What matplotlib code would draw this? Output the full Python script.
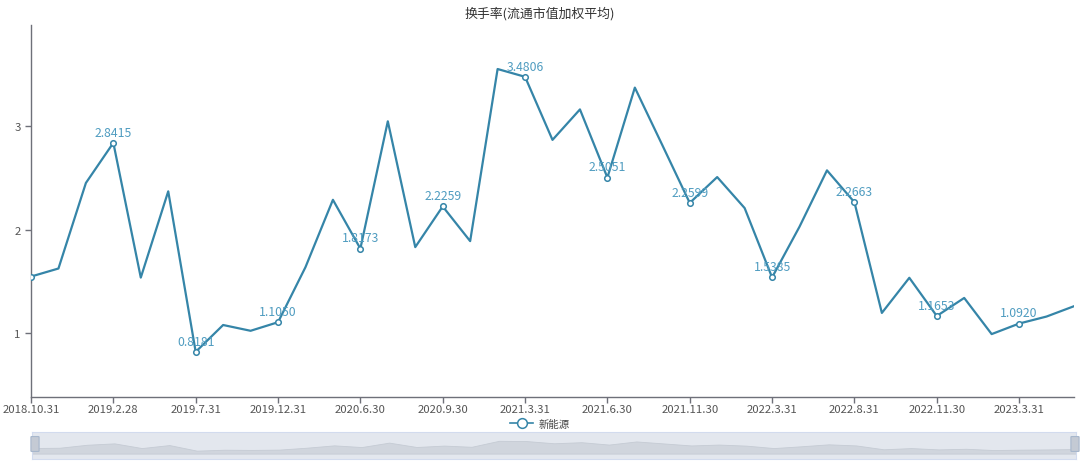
import numpy as np
import matplotlib
matplotlib.use("Agg")
import matplotlib.pyplot as plt
from matplotlib.lines import Line2D
from matplotlib.patches import FancyBboxPatch

plt.rcParams['font.family'] = ['Noto Sans CJK SC', 'DejaVu Sans']

# ============================================================
# Data
# ============================================================

title = "换手率(流通市值加权平均)"
series_name = "新能源"

turnover = [
    1.547, 1.625, 2.453, 2.8415, 1.537, 2.372, 0.8181, 1.078, 1.022, 1.1050,
    1.638, 2.290, 1.8173, 3.050, 1.832, 2.2259, 1.890, 3.556, 3.4806, 2.870,
    3.165, 2.5051, 3.376, 2.820, 2.2599, 2.510, 2.210, 1.5385, 2.030, 2.575,
    2.2663, 1.195, 1.535, 1.1653, 1.340, 0.990, 1.0920, 1.160, 1.260,
]

tick_labels = [
    "2018.10.31", "2019.2.28", "2019.7.31", "2019.12.31", "2020.6.30",
    "2020.9.30", "2021.3.31", "2021.6.30", "2021.11.30", "2022.3.31",
    "2022.8.31", "2022.11.30", "2023.3.31",
]

STEP = 3
line_color = "#3585a8"
label_color = "#4f9cc0"
axis_color = "#6e7079"

x = np.arange(len(turnover))

# ============================================================
# Figure
# ============================================================

fig = plt.figure(figsize=(10.8, 4.64), dpi=100)
ax = fig.add_axes([31 / 1080, 1 - 397.7 / 464, (1074 - 31) / 1080, (397.7 - 25.7) / 464])

ax.plot(x, turnover, color=line_color, lw=1.6, zorder=2)
mk = x[::STEP]
ax.plot(mk, np.array(turnover)[mk], ls="none", marker="o", ms=4,
        mfc="white", mec=line_color, mew=1.1, zorder=3)

for i in mk[1:]:
    ax.annotate(f"{turnover[i]:.4f}", (i, turnover[i]), xytext=(0, 3),
                textcoords="offset points", ha="center", va="bottom",
                fontsize=8.8, color=label_color, zorder=4)

ax.set_xlim(0, len(turnover) - 1)
ax.set_ylim(0.384, 3.985)
ax.set_yticks([1, 2, 3])
ax.set_xticks(x[::STEP])
ax.set_xticklabels(tick_labels)

for s in ["top", "right"]:
    ax.spines[s].set_visible(False)
for s in ["left", "bottom"]:
    ax.spines[s].set_color(axis_color)
    ax.spines[s].set_linewidth(1)
ax.tick_params(axis="both", colors=axis_color, labelcolor="#555555",
               labelsize=8.2, length=4, width=1)
ax.tick_params(axis="x", pad=1.5)

fig.text(0.5, 0.985, title, ha="center", va="top", fontsize=9.3, color="#333333")

handle = Line2D([], [], color=line_color, lw=1.2, marker="o", ms=7,
                mfc="white", mec=line_color, mew=1.1)
fig.legend([handle], [series_name], loc="center", bbox_to_anchor=(0.5, 0.084),
           frameon=False, fontsize=7.5, labelcolor="#444444",
           handlelength=2.2, handletextpad=0.5, borderpad=0.1)

# ============================================================
# Data zoom slider
# ============================================================

sl = fig.add_axes([32 / 1080, 1 - 460 / 464, (1076 - 32) / 1080, 27 / 464])
sl.set_facecolor("#e3e7ee")
sl.fill_between(x, 0, turnover, color="#d0d5dd", lw=0.6, edgecolor="#c5cbd4")
sl.set_xlim(0, len(turnover) - 1)
sl.set_ylim(-1.5, 6.0)
sl.set_xticks([])
sl.set_yticks([])
for s in sl.spines.values():
    s.set_color("#d2dbee")
    s.set_linewidth(0.8)

for hx in [32, 1072]:
    fig.patches.append(FancyBboxPatch((hx / 1080, 1 - 452 / 464), 6 / 1080, 14 / 464,
                                      boxstyle="round,pad=0.001", transform=fig.transFigure,
                                      fc="#c4cad4", ec="#a7b7cc", lw=0.8))

fig.savefig("out.png", dpi=100)
